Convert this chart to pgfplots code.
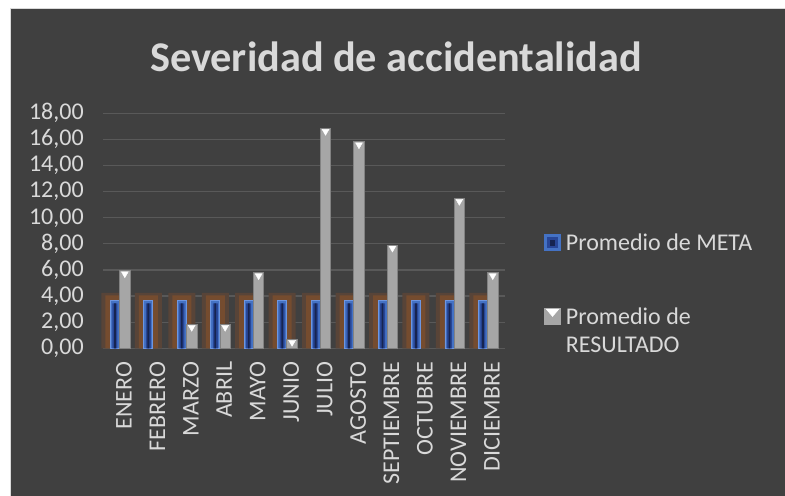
\documentclass[border=0pt]{standalone}
\usepackage{fontspec}
\setmainfont{Carlito}
\usepackage{pgfplots}
\usepackage{pgfplotstable}
\pgfplotsset{compat=1.18}
\definecolor{bgdark}{RGB}{64,64,64}
\definecolor{gridc}{RGB}{89,89,89}
\definecolor{txt}{RGB}{217,217,217}
\definecolor{blueb}{RGB}{68,114,196}
\definecolor{blueedge}{RGB}{110,150,225}
\definecolor{bluein}{RGB}{40,70,150}
\definecolor{bluecore}{RGB}{22,36,80}
\definecolor{greyb}{RGB}{166,166,166}
\definecolor{greyedge}{RGB}{130,130,130}
\definecolor{glowA}{RGB}{88,68,56}
\definecolor{glowB}{RGB}{117,76,47}

\pgfplotstableread{
x meta res
0 3.70 5.94
1 3.70 nan
2 3.70 1.84
3 3.70 1.84
4 3.70 5.79
5 3.70 0.69
6 3.70 16.85
7 3.70 15.82
8 3.70 7.91
9 3.70 nan
10 3.70 11.49
11 3.70 5.79
}\datatable

\pgfplotstableread{
x glowouter glowinner metainner
0 4.25 4.05 3.45
1 4.25 4.05 3.45
2 4.25 4.05 3.45
3 4.25 4.05 3.45
4 4.25 4.05 3.45
5 4.25 4.05 3.45
6 4.25 4.05 3.45
7 4.25 4.05 3.45
8 4.25 4.05 3.45
9 4.25 4.05 3.45
10 4.25 4.05 3.45
11 4.25 4.05 3.45
}\glowtable

\newcommand{\lblfont}{\fontsize{24bp}{28bp}\selectfont}

\begin{document}
\begin{tikzpicture}
\useasboundingbox (0,0) rectangle (785bp,-496bp);
\fill[white] (0,0) rectangle (785bp,-496bp);
\fill[txt] (10bp,-8bp) rectangle (785bp,-496bp);
\fill[bgdark] (11bp,-9bp) rectangle (785bp,-496bp);

\node[font=\fontsize{42.3bp}{46bp}\selectfont\bfseries, text=txt] at (396bp,-57bp) {Severidad de accidentalidad};

\begin{axis}[
  at={(103.2bp,-348.3bp)}, anchor=south west,
  scale only axis, width=401.4bp, height=235bp,
  xmin=-0.5, xmax=11.5, ymin=0, ymax=18,
  ytick={0,2,...,18},
  xtick={0,...,11},
  xticklabels={ENERO,FEBRERO,MARZO,ABRIL,MAYO,JUNIO,JULIO,AGOSTO,SEPTIEMBRE,OCTUBRE,NOVIEMBRE,DICIEMBRE},
  x tick label style={rotate=90, anchor=east, font=\lblfont, text=txt, xshift=-10bp, yshift=-4bp},
  y tick label style={font=\lblfont, text=txt, xshift=-16bp},
  yticklabel style={/pgf/number format/.cd, fixed, fixed zerofill, precision=2, use comma, assume math mode=true},
  axis line style={draw=none},
  ymajorgrids, grid style={gridc, line width=1.2bp},
  major tick length=0pt,
  tick style={draw=none},
  clip=false,
  legend cell align=left,
  legend style={draw=none, fill=none, text=txt, font=\lblfont,
    at={(1.098,0.498)}, anchor=north west, inner sep=0pt,
    row sep=49bp, nodes={anchor=base west, inner sep=2bp},
    /tikz/every odd column/.append style={column sep=3bp}},
]
% glow behind the META bars
\addplot[ybar, bar width=27bp, bar shift=-5bp, fill=glowA, draw=none, forget plot] table[x=x, y=glowouter] {\glowtable};
\addplot[ybar, bar width=19bp, bar shift=-5bp, fill=glowB, draw=none, forget plot] table[x=x, y=glowinner] {\glowtable};
% META
\addplot[ybar, bar width=9bp, bar shift=-5bp, fill=blueb, draw=blueedge, line width=0.8bp,
  legend image code/.code={
    \fill[blueb] (0bp,0bp) rectangle (16bp,16bp);
    \fill[bluein] (3bp,3bp) rectangle (13bp,13bp);
    \fill[bluecore] (6bp,5bp) rectangle (10bp,10bp);
  }] table[x=x, y=meta] {\datatable};
\addlegendentry{Promedio de META}
\addplot[ybar, bar width=5bp, bar shift=-5bp, fill=bluein, draw=none, forget plot] table[x=x, y=metainner] {\glowtable};
\addplot[ybar, bar width=1.8bp, bar shift=-5bp, fill=bluecore, draw=none, forget plot] table[x=x, y=metainner] {\glowtable};
% RESULTADO
\addplot[ybar, bar width=10.5bp, bar shift=4.9bp, fill=greyb, draw=greyedge, line width=0.8bp,
  legend image code/.code={
    \fill[greyb] (0bp,0bp) rectangle (16bp,16bp);
    \fill[white] (2bp,15bp) -- (14bp,15bp) -- (8bp,8bp) -- cycle;
  }] table[x=x, y=res] {\datatable};
\addlegendentry{\begin{tabular}[t]{@{}l@{}}Promedio de\\RESULTADO\end{tabular}}
\addplot[only marks, mark=triangle*, mark size=4bp,
  mark options={xshift=4.9bp, yshift=-3bp, rotate=180, fill=white, draw=white},
  forget plot] table[x=x, y=res] {\datatable};
\end{axis}
\end{tikzpicture}
\end{document}
